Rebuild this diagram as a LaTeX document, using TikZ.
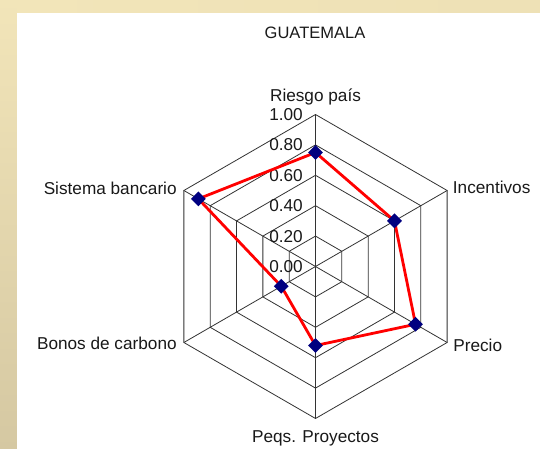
\documentclass[tikz,border=0pt]{standalone}
\usepackage{fontspec}
\setmainfont{Liberation Sans}
\usepackage{xcolor}
\usepackage{tikz}
\usetikzlibrary{calc,shapes.geometric}
\definecolor{paper}{HTML}{F2E5B9}
\definecolor{paperdark}{HTML}{D5C8A2}
\definecolor{gridc}{HTML}{333333}
\definecolor{series}{HTML}{FF0000}
\definecolor{navyc}{HTML}{000080}
\tikzset{
  web/.style={draw=gridc, line width=0.8pt},
  serie/.style={draw=series, line width=2.8pt, line join=round},
  dot/.style={diamond, fill=navyc, inner sep=0pt, minimum size=15pt},
  lab/.style={text=black!90, font=\fontsize{17.2}{19}\selectfont, inner sep=0pt},
  num/.style={lab, anchor=east},
}

\begin{document}
\begin{tikzpicture}[x=1pt,y=1pt]
  \def\R{152}
  % paper frame
  \shade[top color=paper, bottom color=paperdark] (0,0) rectangle (17,449);
  \shade[left color=paper, right color=paper!85!paperdark] (17,436) rectangle (540,449);
  \fill[white] (17,0) rectangle (540,436);
  \useasboundingbox (0,0) rectangle (540,449);
  \node[lab, font=\fontsize{16.5}{18}\selectfont] (titulo) at (315,416.3) {GUATEMALA};
  \begin{scope}[shift={(315.5,182.5)}]
    \coordinate (O) at (0,0);
    \foreach \k in {0.2,0.4,0.6,0.8,1.0}
      \draw[web] (90:\k*\R) -- (30:\k*\R) -- (-30:\k*\R) -- (-90:\k*\R)
        -- (-150:\k*\R) -- (150:\k*\R) -- cycle;
    \coordinate (riesgo) at (90:\R);
    \coordinate (incent) at (30:\R);
    \coordinate (precio) at (-30:\R);
    \coordinate (peqs) at (-90:\R);
    \coordinate (bonos) at (-150:\R);
    \coordinate (banco) at (150:\R);
    \draw[web] (O) -- (riesgo);
    \draw[web] (O) -- (incent);
    \draw[web] (O) -- (precio);
    \draw[web] (O) -- (peqs);
    \draw[web] (O) -- (bonos);
    \draw[web] (O) -- (banco);
    % scale
    \node[num] (n0) at (-12.5,0) {0.00};
    \node[num] (n2) at (-12.5,0.2*\R) {0.20};
    \node[num] (n4) at (-12.5,0.4*\R) {0.40};
    \node[num] (n6) at (-12.5,0.6*\R) {0.60};
    \node[num] (n8) at (-12.5,0.8*\R) {0.80};
    \node[num] (n10) at (-12.5,\R) {1.00};
    % axis names
    \node[lab] (lriesgo) at ($(riesgo)+(0,17.8)$) {Riesgo país};
    \node[lab, anchor=west] (lincent) at ($(incent)+(5.6,3.2)$) {Incentivos};
    \node[lab, anchor=west] (lprecio) at ($(precio)+(6,-2.5)$) {Precio};
    \node[lab] (lpeqs) at ($(peqs)+(0,-20)$) {Peqs. Proyectos};
    \node[lab, anchor=east] (lbonos) at ($(bonos)+(-7,-0.8)$) {Bonos de carbono};
    \node[lab, anchor=east] (lbanco) at ($(banco)+(-7,2.2)$) {Sistema bancario};
    % values
    \coordinate (v1) at (90:0.75*\R);
    \coordinate (v2) at (30:0.60*\R);
    \coordinate (v3) at (-30:0.76*\R);
    \coordinate (v4) at (-90:0.52*\R);
    \coordinate (v5) at (-150:0.26*\R);
    \coordinate (v6) at (150:0.89*\R);
    \draw[serie] (v1) -- (v2) -- (v3) -- (v4) -- (v5) -- (v6) -- cycle;
    \node[dot] (m1) at (v1) {};
    \node[dot] (m2) at (v2) {};
    \node[dot] (m3) at (v3) {};
    \node[dot] (m4) at (v4) {};
    \node[dot] (m5) at (v5) {};
    \node[dot] (m6) at (v6) {};
  \end{scope}
\end{tikzpicture}
\end{document}
